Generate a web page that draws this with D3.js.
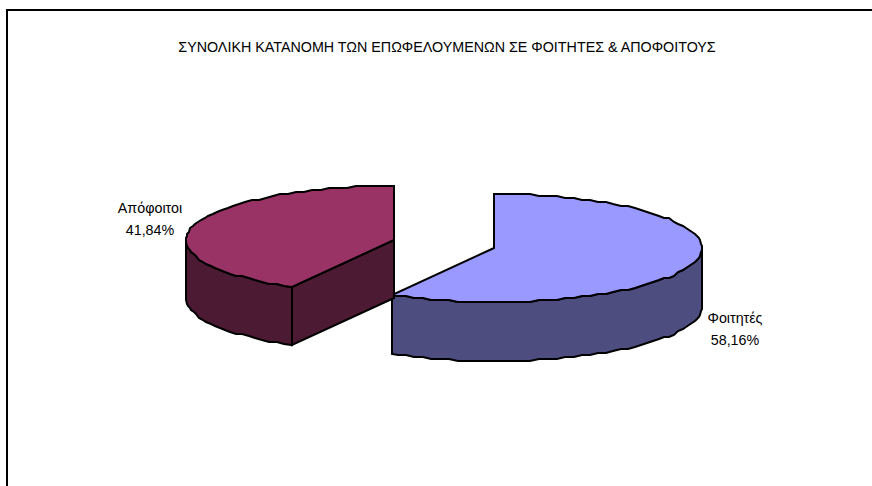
<!DOCTYPE html>
<html><head><meta charset="utf-8">
<script src="https://cdn.jsdelivr.net/npm/d3@7/dist/d3.min.js"></script>
<style>html,body{margin:0;padding:0;background:#fff}svg{display:block}text{font-family:"Liberation Sans",Arial,sans-serif;fill:#000}</style>
</head><body><script>
const title = "ΣΥΝΟΛΙΚΗ ΚΑΤΑΝΟΜΗ ΤΩΝ ΕΠΩΦΕΛΟΥΜΕΝΩΝ ΣΕ ΦΟΙΤΗΤΕΣ & ΑΠΟΦΟΙΤΟΥΣ";
const categories = ["Φοιτητές", "Απόφοιτοι"];
const values = [58.16, 41.84];
const valueLabels = ["58,16%", "41,84%"];
const topColors = ["#9999ff", "#993366"];
const sideColors = ["#4d4d80", "#4d1a33"];

const W = 872, H = 486, FS = 14.3;
const svg = d3.select("body").append("svg").attr("width", W).attr("height", H);
svg.append("path").attr("d", "M7,486V10H872").attr("fill", "none").attr("stroke", "#000").attr("stroke-width", 2);
svg.append("text").attr("x", 447).attr("y", 52).attr("text-anchor", "middle").attr("font-size", FS).text(title);

const pie = d3.pie().sort(null).value(d => d)(values);
const geom = [
  {cx: 494, cy: 248, rx: 208, ry: 54, depth: 59, lx: 735, ly: [323, 345]},
  {cx: 394, cy: 240, rx: 208, ry: 54, depth: 58, lx: 150, ly: [213, 235]}
];
pie.forEach((p, i) => {
  const g = geom[i];
  const X = a => g.cx + g.rx * Math.sin(a), Y = a => g.cy - g.ry * Math.cos(a);
  const quarter = i === 0 ? Math.PI / 2 : Math.PI * 1.5;
  const angles = d3.range(p.startAngle, p.endAngle, Math.PI / 72).concat([quarter, p.endAngle]).sort(d3.ascending);
  // stepped rim, like the coarse outline of the original rendering
  const pt = a => {
    const exact = a === p.startAngle || a === p.endAngle || a === quarter;
    return [Math.round(X(a)), exact ? Math.round(Y(a)) : Math.round(Y(a) / 2) * 2];
  };
  const rim = angles.map(pt);
  const line = d3.line();
  const group = svg.append("g").attr("stroke", "#000").attr("stroke-width", 2).attr("stroke-linejoin", "miter");
  const wall = pts => group.append("path").attr("fill", sideColors[i])
    .attr("d", line(pts.concat(pts.slice().reverse().map(q => [q[0], q[1] + g.depth]))) + "Z");
  if (i === 0) {
    wall(angles.filter(a => a >= quarter).map(pt));
  } else {
    wall([[g.cx, g.cy], pt(p.startAngle)]);
    wall(angles.filter(a => a <= quarter).map(pt));
  }
  group.append("path").attr("fill", topColors[i])
    .attr("d", line([[g.cx, g.cy]].concat(rim)) + "Z");
  const lab = svg.append("g").attr("font-size", FS).attr("text-anchor", "middle");
  lab.append("text").attr("x", g.lx).attr("y", g.ly[0]).text(categories[i]);
  lab.append("text").attr("x", g.lx).attr("y", g.ly[1]).text(valueLabels[i]);
});
</script></body></html>
